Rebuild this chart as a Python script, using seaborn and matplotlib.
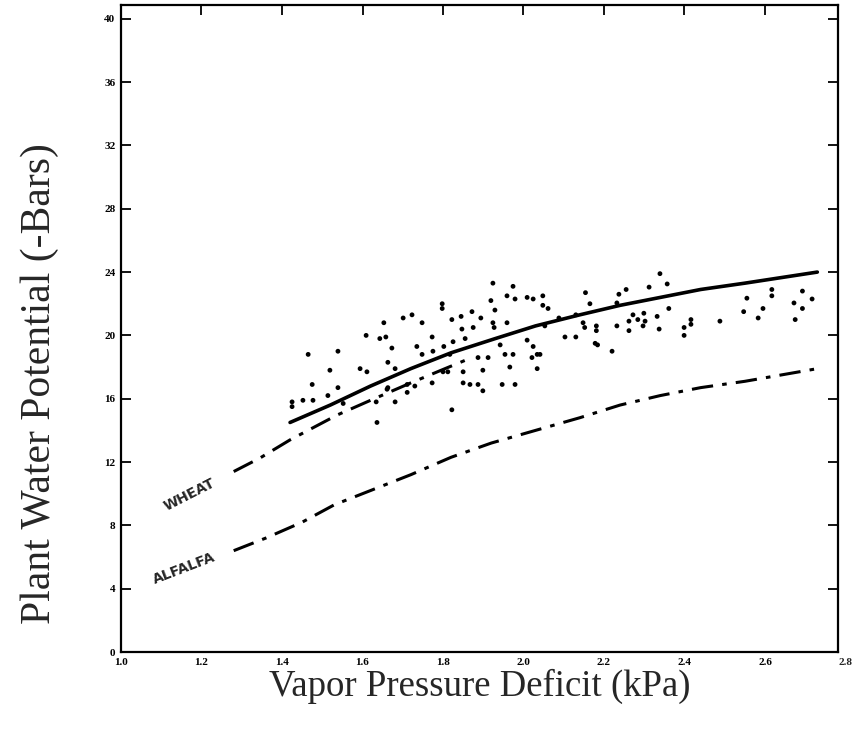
import matplotlib
matplotlib.use("Agg")
import matplotlib.pyplot as plt
import seaborn as sns
import pandas as pd

# ---------------- data ----------------
x_ticks = [1.0, 1.2, 1.4, 1.6, 1.8, 2.0, 2.2, 2.4, 2.6]
x_tick_labels = ["1.0", "1.2", "1.4", "1.6", "1.8", "2.0", "2.2", "2.4", "2.6"]
y_ticks = [0, 4, 8, 12, 16, 20, 24, 28, 32, 36, 40]
y_tick_labels = ["0", "4", "8", "12", "16", "20", "24", "28", "32", "36", "40"]

wheat_obs_vpd = [1.42, 1.52, 1.62, 1.72, 1.82, 1.93, 2.03, 2.14, 2.24, 2.34, 2.44, 2.55, 2.64, 2.73]
wheat_obs_psi = [14.5, 15.6, 16.8, 17.9, 18.9, 19.8, 20.6, 21.3, 21.9, 22.4, 22.9, 23.3, 23.65, 24.0]

wheat_model_vpd = [1.28, 1.345, 1.42, 1.537, 1.62, 1.72, 1.805, 1.867]
wheat_model_psi = [11.4, 12.25, 13.4, 14.97, 15.9, 17.0, 17.9, 18.55]

alfalfa_vpd = [1.28, 1.36, 1.45, 1.53, 1.62, 1.72, 1.82, 1.92, 2.03, 2.14, 2.24, 2.34, 2.44, 2.55, 2.64, 2.73]
alfalfa_psi = [6.4, 7.2, 8.2, 9.3, 10.2, 11.2, 12.3, 13.2, 14.0, 14.8, 15.6, 16.2, 16.7, 17.1, 17.5, 17.9]

pts_vpd = [1.924, 1.974, 1.959, 1.979, 2.009, 2.024, 2.048, 1.919, 1.798, 1.798,
           1.872, 1.929, 2.048, 2.061, 1.845, 1.894, 1.822, 1.723, 1.701, 1.653,
           1.748, 1.924, 1.959, 1.927, 1.847, 1.875, 1.609, 1.643, 1.658, 1.773,
           2.103, 1.825, 1.855, 1.802, 1.735, 1.673, 2.009, 2.024, 1.942, 1.539,
           1.775, 1.748, 1.817, 1.887, 1.912, 1.954, 1.974, 2.034, 2.021, 1.663,
           1.966, 2.034, 1.519, 1.594, 1.611, 1.681, 1.800, 1.812, 1.850, 1.899,
           1.475, 1.539, 1.663, 1.711, 1.730, 1.773, 1.850, 1.867, 1.887, 1.947,
           1.979, 1.899, 1.711, 1.661, 1.514, 1.425, 1.452, 1.477, 1.425, 1.552,
           1.634, 1.681, 1.822, 1.636, 1.465,
           2.339, 2.357, 2.255, 2.312, 2.154, 2.237, 2.555, 2.617, 2.617, 2.693,
           2.672, 2.717, 2.165, 2.232, 2.547, 2.595, 2.693, 2.361, 2.088, 2.130,
           2.272, 2.332, 2.299, 2.284, 2.262, 2.302, 2.416, 2.488, 2.583, 2.675,
           2.053, 2.148, 2.181, 2.232, 2.297, 2.262, 2.337, 2.399, 2.416, 2.152,
           2.181, 2.130, 2.399, 2.178, 2.184, 2.220, 2.041]
pts_psi = [23.3, 23.1, 22.5, 22.3, 22.4, 22.3, 22.5, 22.2, 22.0, 21.7,
           21.5, 21.6, 21.9, 21.7, 21.2, 21.1, 21.0, 21.3, 21.1, 20.8,
           20.8, 20.8, 20.8, 20.5, 20.4, 20.5, 20.0, 19.8, 19.9, 19.9,
           19.9, 19.6, 19.8, 19.3, 19.3, 19.2, 19.7, 19.3, 19.4, 19.0,
           19.0, 18.8, 18.8, 18.6, 18.6, 18.8, 18.8, 18.8, 18.6, 18.3,
           18.0, 17.9, 17.8, 17.9, 17.7, 17.9, 17.7, 17.7, 17.7, 17.8,
           16.9, 16.7, 16.7, 16.9, 16.8, 17.0, 17.0, 16.9, 16.9, 16.9,
           16.9, 16.5, 16.4, 16.6, 16.2, 15.8, 15.9, 15.9, 15.5, 15.7,
           15.8, 15.8, 15.3, 14.5, 18.8,
           23.9, 23.25, 22.9, 23.05, 22.7, 22.6, 22.35, 22.9, 22.5, 22.8,
           22.05, 22.3, 22.0, 22.05, 21.5, 21.7, 21.7, 21.7, 21.1, 21.3,
           21.3, 21.2, 21.4, 21.0, 20.9, 20.9, 21.0, 20.9, 21.1, 21.0,
           20.6, 20.8, 20.6, 20.6, 20.6, 20.3, 20.4, 20.5, 20.7, 20.5,
           20.3, 19.9, 20.0, 19.5, 19.4, 19.0, 18.8]

x_label = "Vapor Pressure Deficit (kPa)"
y_label = "Plant Water Potential (-Bars)"

# ---------------- figure ----------------
sns.set_theme(style="white")
plt.rcParams["font.family"] = ["Liberation Serif", "DejaVu Serif"]

fig = plt.figure(figsize=(8.53, 7.29), dpi=100)
ax = fig.add_axes([121 / 853, 1 - 652 / 729, (838 - 121) / 853, (652 - 5) / 729])

df_pts = pd.DataFrame({"vpd": pts_vpd, "psi": pts_psi})
df_wo = pd.DataFrame({"vpd": wheat_obs_vpd, "psi": wheat_obs_psi})
df_wm = pd.DataFrame({"vpd": wheat_model_vpd, "psi": wheat_model_psi})
df_al = pd.DataFrame({"vpd": alfalfa_vpd, "psi": alfalfa_psi})

sns.scatterplot(data=df_pts, x="vpd", y="psi", ax=ax, color="black", s=12,
                marker="o", edgecolor="none", legend=False)
sns.lineplot(data=df_wo, x="vpd", y="psi", ax=ax, color="black", lw=2.6,
             estimator=None, sort=False)
sns.lineplot(data=df_wm, x="vpd", y="psi", ax=ax, color="black", lw=2.2,
             estimator=None, sort=False)
sns.lineplot(data=df_al, x="vpd", y="psi", ax=ax, color="black", lw=2.2,
             estimator=None, sort=False)
ax.lines[1].set_dashes([7, 3, 1.5, 3])
ax.lines[2].set_dashes([7, 3, 1.5, 3])

ax.text(1.171, 9.9, "WHEAT", rotation=27, ha="center", va="center",
        fontsize=10, fontweight="bold", family="DejaVu Sans")
ax.text(1.157, 5.3, "ALFALFA", rotation=21, ha="center", va="center",
        fontsize=10, fontweight="bold", family="DejaVu Sans")

ax.set_xlim(1.0, 1.0 + (838 - 121) / 402.5)
ax.set_ylim(0, (652 - 5) / 15.83)
ax.set_xticks(x_ticks)
ax.set_xticklabels(x_tick_labels)
ax.set_yticks(y_ticks)
ax.set_yticklabels(y_tick_labels)
ax.annotate("2.8", xy=(2.8, 0), xycoords=("data", "axes fraction"),
            xytext=(0, -4), textcoords="offset points", ha="center", va="top",
            fontsize=8, fontweight="bold", annotation_clip=False)
ax.set_xlabel("")
ax.set_ylabel("")
ax.tick_params(axis="both", direction="in", length=7, width=1.3, labelsize=8,
               top=True, right=True, bottom=False, left=True, pad=4, colors="black")
for lab in ax.get_xticklabels() + ax.get_yticklabels():
    lab.set_fontweight("bold")
for sp in ax.spines.values():
    sp.set_color("black")
    sp.set_linewidth(1.6)
    sp.set_visible(True)
ax.grid(False)

fig.text(480 / 853, 1 - 686 / 729, x_label, ha="center", va="center", fontsize=26.5)
fig.text(40 / 853, 1 - 384 / 729, y_label, ha="center", va="center",
         fontsize=30, rotation=90)

fig.savefig("out.png", dpi=100, facecolor="white")
